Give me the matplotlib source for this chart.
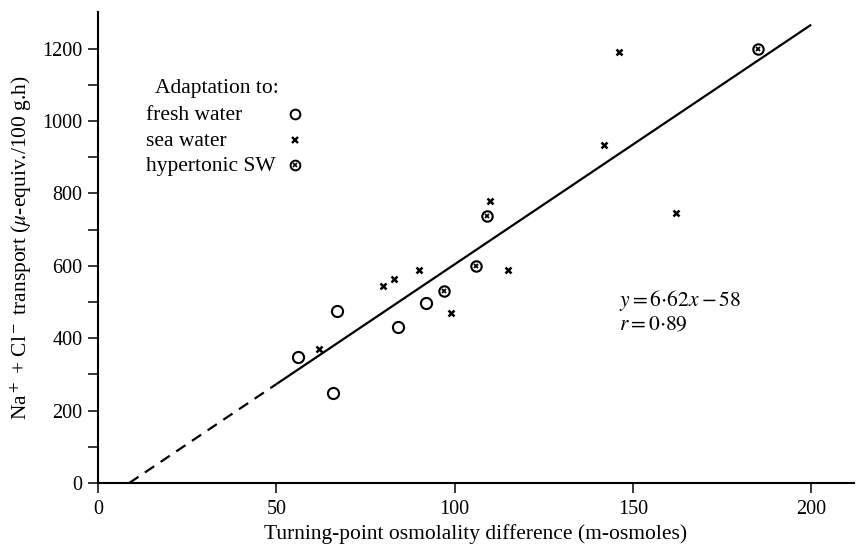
import matplotlib
matplotlib.use("Agg")
import matplotlib.pyplot as plt
import numpy as np

plt.rcParams['font.family'] = ['Liberation Serif', 'DejaVu Serif']
plt.rcParams['mathtext.fontset'] = 'stix'

# Data
fresh_x = [56, 67, 66, 84, 92]
fresh_y = [349, 475, 248, 430, 496]

sea_x = [62, 80, 83, 90, 99, 115, 110, 142, 146, 162]
sea_y = [370, 544, 564, 588, 471, 588, 780, 935, 1191, 745]

hyper_x = [97, 106, 109, 185]
hyper_y = [531, 600, 738, 1200]

slope = 6.62
intercept = -58
fit_solid_range = [50, 200]
fit_dashed_start = -intercept / slope

x_ticks = [0, 50, 100, 150, 200]
y_ticks = [0, 200, 400, 600, 800, 1000, 1200]
y_minor = [100, 300, 500, 700, 900, 1100]

legend_title = 'Adaptation to:'
legend_labels = ['fresh water', 'sea water', 'hypertonic SW']

fig = plt.figure(figsize=(8.61, 5.48), dpi=100)
ax = fig.add_axes([0.1138, 0.1186, 0.878, 0.8587])
ax.set_xlim(0, 212)
ax.set_ylim(0, 1300)

for s in ['top', 'right']:
    ax.spines[s].set_visible(False)
for s in ['left', 'bottom']:
    ax.spines[s].set_linewidth(1.5)

ax.set_xticks(x_ticks)
ax.set_yticks(y_ticks)
ax.set_yticks(y_minor, minor=True)
ax.tick_params(axis='both', which='both', direction='out', width=1.1, labelsize=14.5)
ax.tick_params(axis='y', which='both', length=7, pad=4)
ax.tick_params(axis='x', which='major', length=7, pad=5)

# regression line
xs = np.array(fit_solid_range, dtype=float)
ax.plot(xs, slope * xs + intercept, color='black', lw=1.6, solid_capstyle='butt')
xd = np.array([fit_dashed_start, fit_solid_range[0]])
ax.plot(xd, slope * xd + intercept, color='black', lw=1.6, ls=(0, (5, 3.5)))

# points
ax.plot(fresh_x, fresh_y, ls='none', marker='o', ms=8, mfc='white', mec='black', mew=1.5, zorder=3)
ax.plot(sea_x, sea_y, ls='none', marker='x', ms=5, mec='black', mew=1.8, zorder=3)
ax.plot(hyper_x, hyper_y, ls='none', marker='o', ms=7.5, mfc='white', mec='black', mew=1.5, zorder=3)
ax.plot(hyper_x, hyper_y, ls='none', marker='x', ms=3.5, mec='black', mew=1.3, zorder=4)

# legend (text left-aligned, markers in a column on the right)
tr = ax.transAxes
leg_fs = 15.5
ax.text(0.076, 0.839, legend_title, transform=tr, fontsize=leg_fs, ha='left', va='center')
row_y = [0.780, 0.726, 0.673]
for lab, yy in zip(legend_labels, row_y):
    ax.text(0.064, yy, lab, transform=tr, fontsize=leg_fs, ha='left', va='center')
mx = 0.260
ax.plot([mx], [row_y[0] + 0.004], transform=tr, ls='none', marker='o', ms=7, mfc='white', mec='black', mew=1.4)
ax.plot([mx], [row_y[1] + 0.002], transform=tr, ls='none', marker='x', ms=4.5, mec='black', mew=1.7)
ax.plot([mx], [row_y[2] + 0.002], transform=tr, ls='none', marker='o', ms=7, mfc='white', mec='black', mew=1.4)
ax.plot([mx], [row_y[2] + 0.002], transform=tr, ls='none', marker='x', ms=3.3, mec='black', mew=1.2)

# equation
ax.text(146, 505, r'$y=6{\cdot}62x-58$', fontsize=15.5, va='center', ha='left')
ax.text(146, 434, r'$r=0{\cdot}89$', fontsize=15.5, va='center', ha='left')

ax.set_xlabel('Turning-point osmolality difference (m-osmoles)', fontsize=15.5, labelpad=4)
ax.set_ylabel(r'Na$^+$ + Cl$^-$ transport ($\mu$-equiv./100 g.h)', fontsize=15.5, labelpad=6)

fig.savefig('out.png', dpi=100)
